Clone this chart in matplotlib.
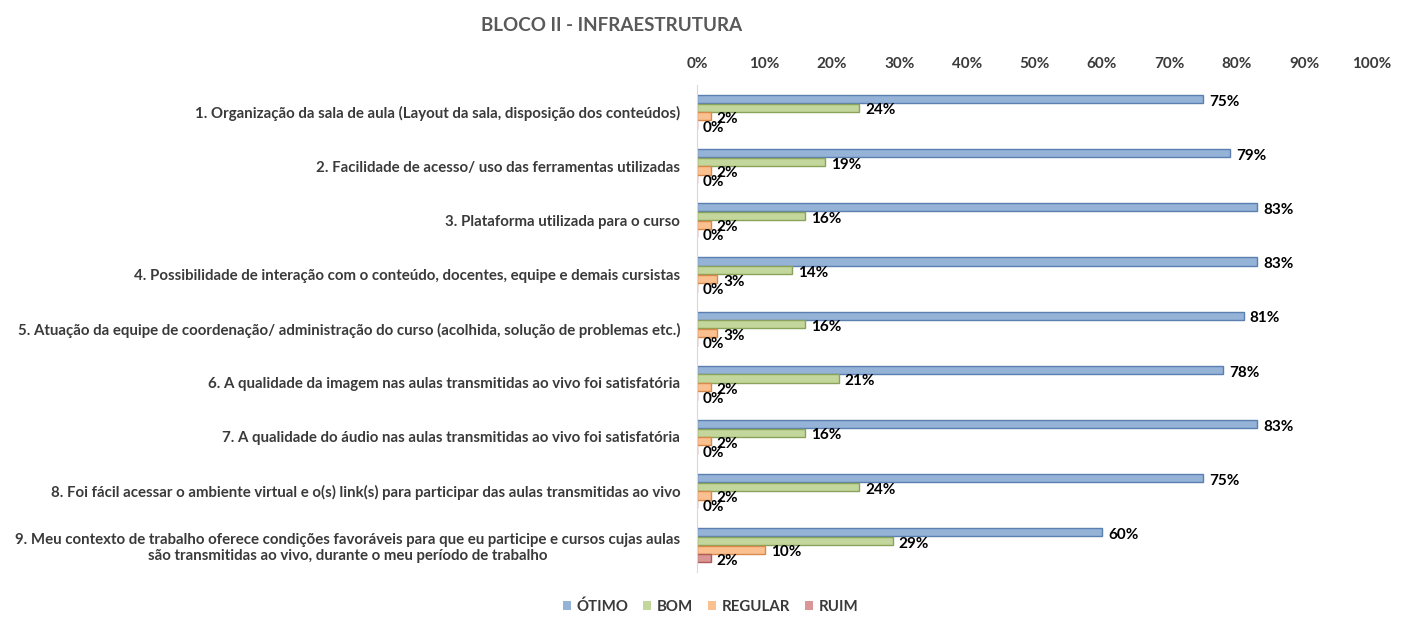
import numpy as np
import matplotlib
matplotlib.use("Agg")
from matplotlib import pyplot as plt

plt.rcParams['font.family'] = ['Lato', 'DejaVu Sans']

categorias = [
    "1. Organização da sala de aula (Layout da sala, disposição dos conteúdos)",
    "2. Facilidade de acesso/ uso das ferramentas utilizadas",
    "3. Plataforma utilizada para o curso",
    "4. Possibilidade de interação com o conteúdo, docentes, equipe e demais cursistas",
    "5. Atuação da equipe de coordenação/ administração do curso (acolhida, solução de problemas etc.)",
    "6. A qualidade da imagem nas aulas transmitidas ao vivo foi satisfatória",
    "7. A qualidade do áudio nas aulas transmitidas ao vivo foi satisfatória",
    "8. Foi fácil acessar o ambiente virtual e o(s) link(s) para participar das aulas transmitidas ao vivo",
    "9. Meu contexto de trabalho oferece condições favoráveis para que eu participe e cursos cujas aulas\nsão transmitidas ao vivo, durante o meu período de trabalho",
]
otimo = [75, 79, 83, 83, 81, 78, 83, 75, 60]
bom = [24, 19, 16, 14, 16, 21, 16, 24, 29]
regular = [2, 2, 2, 3, 3, 2, 2, 2, 10]
ruim = [0, 0, 0, 0, 0, 0, 0, 0, 2]
series = ["ÓTIMO", "BOM", "REGULAR", "RUIM"]

cores = ["#95B3D7", "#C3D69B", "#FAC090", "#D99694"]
bordas = ["#5B7FB0", "#8AA35A", "#D98A4A", "#B05A58"]

fig = plt.figure(figsize=(14.15, 6.29), dpi=100)
ax = fig.add_axes([0.4926, 0.09, 0.477, 0.775])

y = np.arange(len(categorias))
h = 0.15
offs = [-0.24, -0.08, 0.08, 0.24]
for k, vals in enumerate([otimo, bom, regular, ruim]):
    ax.barh(y + offs[k], vals, height=h, color=cores[k], edgecolor=bordas[k],
            linewidth=1.0, label=series[k])
    for yi, v in zip(y, vals):
        ax.text(v + 0.9, yi + offs[k] + 0.05, "%d%%" % v, va="center", ha="left",
                fontsize=11, fontweight="bold", color="black")

ax.set_xlim(0, 100)
ax.set_ylim(len(categorias) - 0.5, -0.5)
ax.set_xticks(np.arange(0, 101, 10))
ax.set_xticklabels(["%d%%" % t for t in range(0, 101, 10)])
ax.xaxis.tick_top()
ax.tick_params(axis="x", length=0, labelsize=11, pad=10)
ax.tick_params(axis="y", length=0, labelsize=10.8, pad=12)
ax.set_yticks(y)
ax.set_yticklabels(categorias, ha="right", multialignment="center")
for lbl in ax.get_xticklabels() + ax.get_yticklabels():
    lbl.set_fontweight("bold")
    lbl.set_color("#3A3A3A")
for s in ["top", "right", "bottom"]:
    ax.spines[s].set_visible(False)
ax.spines["left"].set_color("#D9D9D9")

fig.text(0.432, 0.96, "BLOCO II - INFRAESTRUTURA", ha="center", va="center",
         fontsize=13.5, fontweight="bold", color="#595959")

leg = fig.legend(loc="center", bbox_to_anchor=(0.502, 0.036), ncol=4, frameon=False,
                 fontsize=10.8, handlelength=0.55, handleheight=0.55, columnspacing=1.0,
                 handletextpad=0.35)
for t in leg.get_texts():
    t.set_fontweight("bold")
    t.set_color("#3A3A3A")
for hnd in leg.legend_handles:
    hnd.set_edgecolor("none")

fig.savefig("out.png", dpi=100)
